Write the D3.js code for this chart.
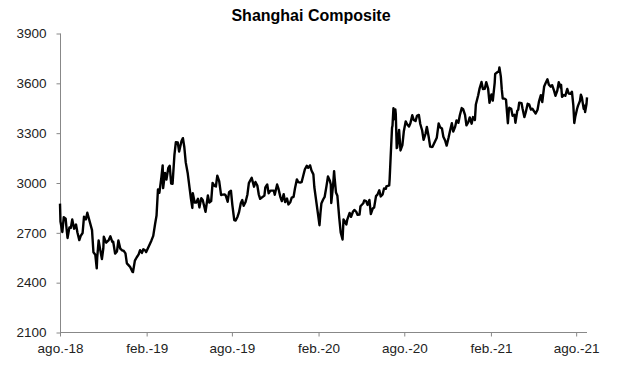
<!DOCTYPE html>
<html>
<head>
<meta charset="utf-8">
<script src="https://cdn.jsdelivr.net/npm/d3@7"></script>
<style>
  body { margin: 0; background: #fff; }
  svg { display: block; font-family: "Liberation Sans", Arial, sans-serif; }
</style>
</head>
<body>
<svg id="chart" width="617" height="369"></svg>
<script>
// Shanghai Composite (roughly twice a week)
var dates = [
  "2018-08-01","2018-08-02","2018-08-06","2018-08-09","2018-08-13","2018-08-15","2018-08-17","2018-08-21","2018-08-24","2018-08-27","2018-08-31",
  "2018-09-04","2018-09-07","2018-09-11","2018-09-14","2018-09-18","2018-09-21","2018-09-25","2018-09-28",
  "2018-10-08","2018-10-11","2018-10-15","2018-10-18","2018-10-19","2018-10-22","2018-10-25","2018-10-29",
  "2018-11-01","2018-11-02","2018-11-07","2018-11-12","2018-11-16","2018-11-20","2018-11-22","2018-11-26","2018-11-30",
  "2018-12-03","2018-12-07","2018-12-11","2018-12-14","2018-12-18","2018-12-21","2018-12-25","2018-12-28",
  "2019-01-02","2019-01-03","2019-01-07","2019-01-11","2019-01-15","2019-01-18","2019-01-22","2019-01-25","2019-01-29","2019-01-31",
  "2019-02-11","2019-02-15","2019-02-19","2019-02-22","2019-02-25","2019-02-28",
  "2019-03-04","2019-03-07","2019-03-08","2019-03-12","2019-03-15","2019-03-19","2019-03-22","2019-03-25","2019-03-28",
  "2019-04-01","2019-04-04","2019-04-08","2019-04-11","2019-04-16","2019-04-19","2019-04-22","2019-04-25","2019-04-29",
  "2019-05-06","2019-05-09","2019-05-10","2019-05-14","2019-05-17","2019-05-21","2019-05-24","2019-05-28","2019-05-31",
  "2019-06-06","2019-06-11","2019-06-14","2019-06-18","2019-06-21","2019-06-25","2019-06-28",
  "2019-07-01","2019-07-05","2019-07-09","2019-07-12","2019-07-17","2019-07-19","2019-07-23","2019-07-26","2019-07-30",
  "2019-08-02","2019-08-06","2019-08-09","2019-08-13","2019-08-16","2019-08-20","2019-08-23","2019-08-26","2019-08-30",
  "2019-09-03","2019-09-06","2019-09-10","2019-09-12","2019-09-17","2019-09-20","2019-09-24","2019-09-27","2019-09-30",
  "2019-10-09","2019-10-11","2019-10-15","2019-10-18","2019-10-22","2019-10-25","2019-10-29","2019-10-31",
  "2019-11-05","2019-11-08","2019-11-12","2019-11-15","2019-11-19","2019-11-22","2019-11-26","2019-11-29",
  "2019-12-03","2019-12-06","2019-12-10","2019-12-13","2019-12-17","2019-12-20","2019-12-24","2019-12-27","2019-12-31",
  "2020-01-03","2020-01-07","2020-01-10","2020-01-14","2020-01-17","2020-01-21","2020-01-23",
  "2020-02-03","2020-02-05","2020-02-07","2020-02-11","2020-02-14","2020-02-18","2020-02-21","2020-02-25","2020-02-27","2020-02-28",
  "2020-03-03","2020-03-05","2020-03-06","2020-03-09","2020-03-12","2020-03-16","2020-03-19","2020-03-23","2020-03-25","2020-03-27","2020-03-31",
  "2020-04-02","2020-04-07","2020-04-10","2020-04-14","2020-04-17","2020-04-21","2020-04-24","2020-04-28","2020-04-30",
  "2020-05-06","2020-05-08","2020-05-12","2020-05-15","2020-05-19","2020-05-22","2020-05-26","2020-05-29",
  "2020-06-02","2020-06-05","2020-06-09","2020-06-12","2020-06-16","2020-06-19","2020-06-23","2020-06-24","2020-06-30",
  "2020-07-01","2020-07-03","2020-07-06","2020-07-07","2020-07-09","2020-07-10","2020-07-13","2020-07-14","2020-07-16","2020-07-17","2020-07-21","2020-07-24","2020-07-28","2020-07-31",
  "2020-08-04","2020-08-07","2020-08-11","2020-08-14","2020-08-18","2020-08-21","2020-08-25","2020-08-28",
  "2020-09-01","2020-09-04","2020-09-08","2020-09-11","2020-09-15","2020-09-18","2020-09-22","2020-09-25","2020-09-28","2020-09-30",
  "2020-10-09","2020-10-13","2020-10-16","2020-10-20","2020-10-23","2020-10-27","2020-10-30",
  "2020-11-03","2020-11-06","2020-11-10","2020-11-13","2020-11-17","2020-11-20","2020-11-24","2020-11-27",
  "2020-12-01","2020-12-04","2020-12-08","2020-12-11","2020-12-15","2020-12-18","2020-12-22","2020-12-25","2020-12-29","2020-12-31",
  "2021-01-05","2021-01-08","2021-01-12","2021-01-15","2021-01-19","2021-01-22","2021-01-26","2021-01-29",
  "2021-02-02","2021-02-05","2021-02-09","2021-02-10","2021-02-18","2021-02-19","2021-02-22","2021-02-24","2021-02-26",
  "2021-03-02","2021-03-05","2021-03-09","2021-03-11","2021-03-12","2021-03-16","2021-03-19","2021-03-23","2021-03-25","2021-03-29","2021-03-31",
  "2021-04-02","2021-04-07","2021-04-09","2021-04-13","2021-04-16","2021-04-20","2021-04-23","2021-04-27","2021-04-30",
  "2021-05-07","2021-05-11","2021-05-14","2021-05-18","2021-05-21","2021-05-25","2021-05-28",
  "2021-06-01","2021-06-04","2021-06-08","2021-06-11","2021-06-15","2021-06-18","2021-06-22","2021-06-25","2021-06-29","2021-06-30",
  "2021-07-02","2021-07-06","2021-07-09","2021-07-13","2021-07-16","2021-07-20","2021-07-23","2021-07-26","2021-07-28","2021-07-30",
  "2021-08-03","2021-08-05","2021-08-09","2021-08-11","2021-08-13","2021-08-17","2021-08-19","2021-08-20","2021-08-23","2021-08-24"
];

var closes = [
  2876,2768,2705,2794,2785,2723,2669,2733,2730,2781,2725,
  2750,2702,2656,2682,2699,2797,2781,2821,
  2716,2583,2568,2486,2550,2654,2604,2542,
  2606,2676,2641,2654,2679,2645,2646,2575,2588,
  2654,2605,2594,2593,2576,2516,2504,2494,
  2465,2464,2533,2553,2570,2596,2579,2601,2594,2584,
  2653,2682,2755,2804,2961,2941,
  3027,3106,2969,3060,3021,3091,3104,2997,2995,
  3170,3246,3244,3189,3253,3270,3215,3124,3062,
  2906,2850,2939,2883,2882,2905,2853,2909,2898,
  2827,2925,2882,2891,3001,2982,2979,
  3044,3011,2928,2930,2931,2924,2887,2944,2953,
  2867,2777,2774,2797,2823,2880,2897,2863,2886,
  2931,2999,3021,3031,2978,3006,2985,2932,2905,
  2924,2973,2991,2938,2954,2954,2954,2929,
  2991,2964,2915,2891,2933,2885,2907,2871,
  2884,2912,2917,2968,3022,3005,3003,3005,3050,
  3083,3104,3092,3106,3075,3052,2976,
  2746,2818,2876,2902,2917,2984,3039,3013,2991,2880,
  2992,3071,3034,2943,2923,2789,2702,2660,2781,2772,2750,
  2780,2820,2796,2827,2838,2827,2808,2810,2860,
  2878,2895,2891,2868,2898,2813,2846,2852,
  2921,2930,2956,2919,2931,2967,2965,2979,2985,
  3025,3152,3332,3345,3450,3383,3443,3414,3210,3214,3320,3196,3228,3310,
  3371,3354,3340,3360,3408,3380,3373,3404,
  3410,3355,3316,3260,3295,3338,3275,3219,3217,3218,
  3272,3359,3336,3328,3278,3254,3225,
  3272,3312,3360,3310,3339,3377,3363,3408,
  3451,3444,3410,3347,3367,3395,3357,3397,3379,3473,
  3528,3570,3608,3566,3567,3607,3569,3483,
  3533,3496,3603,3656,3675,3696,3642,3565,3509,
  3508,3502,3360,3437,3453,3447,3405,3411,3363,3435,3441,
  3484,3480,3450,3397,3426,3477,3474,3442,3447,
  3418,3441,3490,3529,3487,3581,3600,
  3624,3592,3580,3589,3556,3525,3557,3607,3574,3591,
  3519,3530,3525,3566,3539,3537,3550,3467,3361,3397,
  3447,3466,3494,3532,3517,3446,3465,3427,3477,3515
];

var title = "Shanghai Composite";
var yTicks = [2100, 2400, 2700, 3000, 3300, 3600, 3900];
var xTickDates = ["2018-08-01","2019-02-01","2019-08-01","2020-02-01","2020-08-01","2021-02-01","2021-08-01"];
var xTickLabels = ["ago.-18","feb.-19","ago.-19","feb.-20","ago.-20","feb.-21","ago.-21"];

var parse = d3.timeParse("%Y-%m-%d");
var data = dates.map(function(d, i) { return { date: parse(d), value: closes[i] }; });

var svg = d3.select("#chart");
var axisColor = "#888888";

var x = d3.scaleTime()
  .domain([parse("2018-08-01"), parse("2021-08-24")])
  .range([60, 587]);

var y = d3.scaleLinear()
  .domain([2100, 3900])
  .range([332.5, 33.5]);

svg.append("text")
  .attr("x", 311)
  .attr("y", 21)
  .attr("text-anchor", "middle")
  .style("font-size", "16px")
  .style("font-weight", "bold")
  .style("fill", "#000")
  .text(title);

// y axis
var yAxis = svg.append("g")
  .attr("transform", "translate(60.5,0)")
  .call(d3.axisLeft(y).tickValues(yTicks).tickSize(4).tickPadding(10).tickFormat(d3.format("d")));

// x axis
var xAxis = svg.append("g")
  .attr("transform", "translate(0,332.5)")
  .call(d3.axisBottom(x)
    .tickValues(xTickDates.map(parse))
    .tickSize(4)
    .tickPadding(7)
    .tickFormat(function(d, i) { return xTickLabels[i]; }));

[yAxis, xAxis].forEach(function(g) {
  g.select(".domain").attr("stroke", axisColor).attr("stroke-width", 1);
  g.selectAll(".tick line").attr("stroke", axisColor);
  g.selectAll(".tick text")
    .style("font-size", "13.5px")
    .style("fill", "#222")
    .style("font-family", "'Liberation Sans', Arial, sans-serif");
});
// Excel-style domain without end caps
yAxis.select(".domain").attr("d", "M0," + y(3900) + "V" + y(2100));
xAxis.select(".domain").attr("d", "M" + x.range()[0] + ",0H" + x.range()[1]);

var line = d3.line()
  .x(function(d) { return x(d.date); })
  .y(function(d) { return y(d.value); });

svg.append("path")
  .datum(data)
  .attr("fill", "none")
  .attr("stroke", "#000")
  .attr("stroke-width", 2.4)
  .attr("stroke-linejoin", "round")
  .attr("d", line);
</script>
</body>
</html>
